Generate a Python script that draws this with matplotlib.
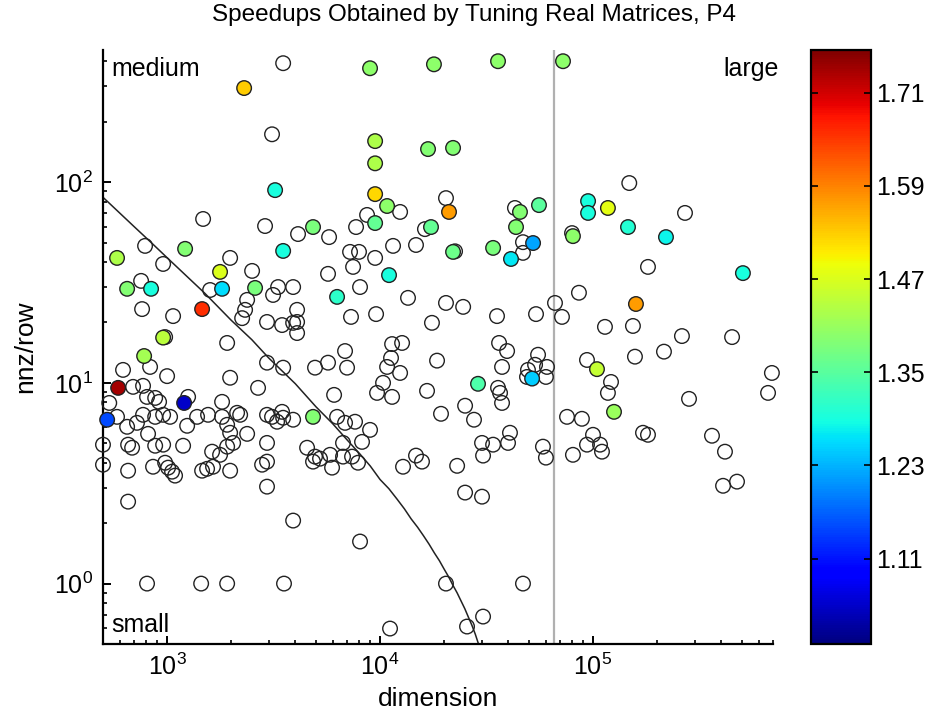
import numpy as np
import matplotlib
matplotlib.use("Agg")
import matplotlib.pyplot as plt

# matrices that were not tuned (open circles)
open_dim = [3507, 3110, 1476, 2884, 4120, 788, 958, 1977, 2507, 755, 3320, 3907, 1592, 763, 1067,
            2376, 2324, 2251, 2946, 3145, 3907, 1914, 979, 621, 832, 1000, 692, 771, 535, 1977,
            2674, 2946, 3507, 805, 879, 917, 1812, 1255, 582, 649, 722, 771, 879, 958, 1033,
            814, 1242, 1383, 1557, 1812, 1914, 2132, 2203, 2376, 1977, 2042, 1914, 2946, 3110, 3285,
            3467, 3507, 3907, 500, 656, 685, 879, 958, 1189, 1627, 1773, 2946, 500, 656, 859,
            979, 1011, 1055, 1090, 1460, 1541, 1643, 1977, 2793, 2946, 2946, 656, 3907, 805, 1445,
            1914, 3540,
            12420, 8690, 7715, 5763, 20400, 16250, 11510, 14750, 7230, 7965, 9480, 7470, 5698, 8054,
            43000, 46900, 46900, 79700, 148000, 85900, 270400, 181200, 22500,
            4078, 4078, 4078, 3467, 7305, 9580, 13530, 20400, 24560, 17530, 35420, 54000, 66300,
            71500, 113800, 6849, 7000, 4950, 5698, 11390, 12690, 11260, 10790, 12420, 10330, 9680,
            11390, 6084, 18520, 16620, 36210, 39500, 37400, 35810, 36600, 37400, 25080, 27620,
            19330, 55200, 53450, 49500, 60800, 60100, 48980, 93700, 121500, 117500, 75500, 88700,
            100000, 93700, 107900, 110200, 80500, 58200, 60100, 30120, 33950, 40750, 39900, 30460,
            23010, 25080, 30120, 14750, 15740, 12820, 6283, 6849, 7630, 8975, 8230, 6700, 4543,
            4950, 5226, 5826, 4845, 6700, 7387, 5952, 7880,
            154000, 157400, 215400, 261600, 449800, 692000, 663700, 282400, 171700, 181200,
            362000, 416600, 408000, 474500,
            8054, 11140, 20400, 46900, 25610, 30460]
open_nnz = [391, 173, 65.5, 60.4, 55.1, 48.1, 39.1, 41.9, 36.1, 32.2, 30.0, 30.0, 29.0, 23.3, 21.5,
            25.9, 23.1, 21.0, 20.1, 27.4, 19.9, 15.8, 16.9, 11.6, 12.0, 10.8, 9.55, 9.66, 7.94, 10.6,
            9.44, 12.6, 11.9, 8.51, 8.41, 8.04, 8.04, 8.51, 6.77, 6.04, 6.32, 6.93, 6.77, 6.93, 6.77,
            5.57, 6.11, 6.77, 6.93, 6.77, 6.18, 7.09, 6.93, 5.57, 5.64, 5.02, 4.81, 6.93, 6.77, 6.40,
            7.17, 6.70, 6.55, 4.92, 4.92, 4.75, 4.86, 4.92, 4.86, 4.54, 4.38, 5.02, 3.91, 3.65, 3.82,
            4.00, 3.78, 3.61, 3.45, 3.65, 3.73, 3.82, 3.65, 3.91, 4.05, 3.04, 2.56, 2.06, 1.0, 1.0,
            1.0, 1.0,
            71.0, 68.6, 59.7, 53.2, 83.2, 58.3, 48.1, 48.6, 44.9, 44.9, 41.9, 37.8, 34.9, 30.0,
            74.3, 50.2, 44.4, 55.7, 98.9, 28.1, 70.2, 37.8, 45.2,
            23.1, 20.1, 17.7, 19.4, 21.3, 22.0, 26.5, 25.0, 23.9, 19.9, 21.5, 22.0, 25.0,
            21.3, 19.0, 14.4, 11.9, 11.9, 12.6, 15.6, 15.8, 13.3, 12.0, 11.2, 10.0, 8.91,
            8.51, 8.71, 12.9, 9.12, 15.8, 14.4, 12.0, 9.44, 8.91, 7.94, 7.69, 6.55,
            7.01, 13.8, 12.3, 11.6, 12.0, 10.7, 10.7, 13.0, 10.1, 8.91, 6.77, 6.62,
            5.51, 4.92, 4.92, 4.54, 4.38, 4.81, 4.24, 5.02, 4.92, 5.64, 5.02, 4.34,
            3.86, 2.84, 2.71, 4.34, 4.05, 3.82, 6.77, 6.32, 6.40, 5.83, 5.08, 5.02, 4.75,
            4.29, 4.19, 4.38, 4.05, 4.29, 4.29, 3.78, 4.00,
            19.2, 13.5, 14.3, 17.1, 16.9, 11.2, 8.91, 8.32, 5.64, 5.51,
            5.45, 4.54, 3.07, 3.22,
            1.62, 0.597, 1.0, 1.0, 0.611, 0.685]

# tuned matrices, coloured by speedup
tuned_dim = [2300, 3215, 582, 1215, 3507, 1773, 649, 841, 1812, 2589, 1460, 958, 780, 589, 1202,
             523, 8975, 17910, 35810, 72300, 9480, 9480, 16800, 22020, 9480, 10790, 9480, 4845,
             21080, 17350, 11020, 22020, 33950, 45400, 55760, 43500, 52300, 41200, 94800, 94800,
             117500, 80500, 146000, 220100, 505800, 6283, 28840, 51760, 104400, 125500, 159100, 4845]
tuned_nnz = [294, 91.2, 41.9, 46.5, 45.4, 35.7, 29.4, 29.4, 29.4, 29.7, 23.3, 16.8, 13.6, 9.44, 7.94,
             6.55, 369, 386, 400, 400, 160, 124, 146, 148, 87.1, 76.0, 62.5, 59.7,
             71.0, 59.7, 34.4, 44.9, 47.0, 71.0, 76.8, 59.7, 49.7, 41.4, 80.4, 70.2,
             74.3, 53.8, 59.7, 53.2, 35.2, 26.8, 9.89, 10.5, 11.7, 7.17, 24.7, 6.77]
speedup = [1.53, 1.29, 1.43, 1.39, 1.29, 1.47, 1.39, 1.29, 1.26, 1.38, 1.66, 1.44, 1.42, 1.74, 1.05,
           1.15, 1.40, 1.40, 1.40, 1.40, 1.43, 1.43, 1.39, 1.39, 1.52, 1.40, 1.36, 1.38,
           1.57, 1.36, 1.29, 1.37, 1.38, 1.39, 1.35, 1.39, 1.22, 1.27, 1.29, 1.29,
           1.48, 1.40, 1.30, 1.28, 1.29, 1.31, 1.34, 1.25, 1.45, 1.41, 1.57, 1.39]

# small/medium boundary curve and the large-matrix cutoff
curve_dim = [500, 600, 700, 850, 1000, 1250, 1500, 2000, 2500, 3000, 4000, 5000, 6000, 7000,
             8000, 9000, 10000, 11000, 12000, 13000, 14000, 15000, 16000, 17000, 18000, 19000,
             20000, 21000, 22000, 23000, 24000, 25000, 26000, 27000, 28000, 29000]
curve_nnz = [84, 70, 60, 49.5, 42, 33.6, 28, 20.5, 16.4, 13.3, 9.9, 7.6, 6.25, 5.2,
             4.45, 3.85, 3.3, 2.97, 2.64, 2.36, 2.1, 1.91, 1.73, 1.57, 1.42, 1.3,
             1.18, 1.08, 0.98, 0.9, 0.82, 0.75, 0.68, 0.62, 0.56, 0.5]
large_cut = 65536
cbar_ticks = [1.11, 1.23, 1.35, 1.47, 1.59, 1.71]

plt.rcParams['font.family'] = 'Liberation Sans'
plt.rcParams['mathtext.fontset'] = 'custom'
plt.rcParams['mathtext.rm'] = 'Liberation Sans'
plt.rcParams['mathtext.it'] = 'Liberation Sans:italic'

fig = plt.figure(figsize=(9.51, 7.14), dpi=100)
ax = fig.add_axes([0.1083, 0.098, 0.7045, 0.832])
cax = fig.add_axes([0.8528, 0.098, 0.0631, 0.832])

ax.plot(curve_dim, curve_nnz, color='#222222', lw=1.1, zorder=2)
ax.axvline(large_cut, color='#b0b0b0', lw=1.6, zorder=1)

ax.scatter(open_dim, open_nnz, s=110, facecolors='none', edgecolors='#222222',
           linewidths=1.0, zorder=3, clip_on=False)
sc = ax.scatter(tuned_dim, tuned_nnz, c=speedup, cmap='jet', vmin=1.0, vmax=1.765, s=110,
                edgecolors='#222222', linewidths=1.0, zorder=4, clip_on=False)

ax.set_xscale('log')
ax.set_yscale('log')
ax.set_xlim(500, 7e5)
ax.set_ylim(0.5, 455)

for side in ['top', 'right']:
    ax.spines[side].set_visible(False)
for side in ['left', 'bottom']:
    ax.spines[side].set_linewidth(1.6)
ax.tick_params(which='major', direction='in', length=6, width=1.4, labelsize=18, pad=7)
ax.tick_params(which='minor', direction='in', length=3, width=1.2)

ax.set_xlabel('dimension', fontsize=19, labelpad=5)
ax.set_ylabel('nnz/row', fontsize=19, labelpad=12)
fig.text(0.4985, 0.994, 'Speedups Obtained by Tuning Real Matrices, P4', fontsize=17.5,
         ha='center', va='top')

ax.text(0.012, 0.988, 'medium', transform=ax.transAxes, fontsize=18, ha='left', va='top')
ax.text(1.009, 0.988, 'large', transform=ax.transAxes, fontsize=18, ha='right', va='top')
ax.text(0.012, 0.02, 'small', transform=ax.transAxes, fontsize=18, ha='left', va='baseline')

cb = fig.colorbar(sc, cax=cax, ticks=cbar_ticks)
cb.outline.set_linewidth(1.6)
cb.ax.set_yticklabels(['%.2f' % t for t in cbar_ticks])
cb.ax.tick_params(direction='in', left=True, right=True, length=5, width=1.2,
                  labelsize=18, pad=4)

fig.savefig('out.png', dpi=100)
